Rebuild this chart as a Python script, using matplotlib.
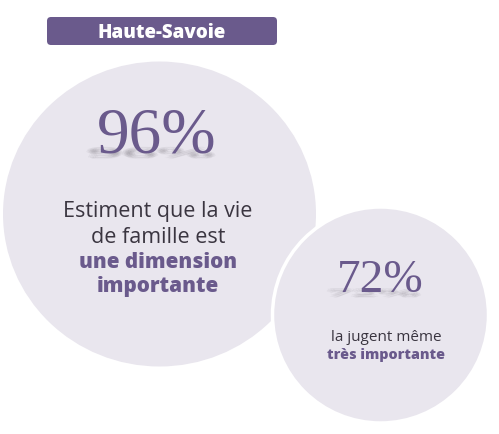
import matplotlib
matplotlib.use('Agg')
import matplotlib.pyplot as plt
from matplotlib.patches import Ellipse, Circle, FancyBboxPatch, PathPatch
from matplotlib.textpath import TextPath
from matplotlib.font_manager import FontProperties
from matplotlib.transforms import Affine2D

# data
title = "Haute-Savoie"
percents = [96, 72]
lines_regular = [["Estiment que la vie", "de famille est"], ["la jugent même"]]
lines_bold = [["une dimension", "importante"], ["très importante"]]

purple = '#6a5a8c'
dark = '#3a3540'
bubble = '#e9e6ee'

fig = plt.figure(figsize=(4.99, 4.35), dpi=100)
ax = fig.add_axes([0, 0, 1, 1])
ax.set_xlim(0, 499)
ax.set_ylim(435, 0)
ax.axis('off')

# bubbles
ax.add_patch(Ellipse((159.5, 215), 313, 305, fc=bubble, ec='none', zorder=1))
ax.add_patch(Circle((380.5, 316), 108, fc=bubble, ec='white', lw=2.5, zorder=2))

# title box
ax.add_patch(FancyBboxPatch((47, 18), 230, 28, boxstyle='round,pad=0,rounding_size=4',
                            fc=purple, ec='none', zorder=3))
ax.text(162, 32.5, title, color='white', fontsize=13.5, fontweight='heavy',
        family='Open Sans', ha='center', va='center', zorder=4)

serif = FontProperties(family='Liberation Serif')


def shadow(txt, cx, base, size):
    tp = TextPath((0, 0), txt, size=size, prop=serif)
    bb = tp.get_extents()
    offs = [(0, 0), (1.5, 1), (-1.5, 1), (0, 2), (2.5, -1), (-2.5, -1),
            (3.5, 0.5), (-3.5, 0.5), (0, -1.5)]
    for dx, dy in offs:
        tr = (Affine2D().translate(-(bb.x0 + bb.x1) / 2, 0).scale(1.05, -0.2)
              .translate(cx - 6 + dx, base + 5 + dy))
        ax.add_patch(PathPatch(tr.transform_path(tp), fc='#6d6870', ec='none',
                               alpha=0.065, zorder=4))


# big bubble
shadow(f"{percents[0]}%", 157, 153, 66)
ax.text(157, 153, f"{percents[0]}%", color=purple, fontsize=47, family='Liberation Serif',
        ha='center', va='baseline', zorder=5)
ys = [212, 238]
for s, y in zip(lines_regular[0], ys):
    ax.text(158, y, s, color=dark, fontsize=15.5, family='Open Sans', ha='center',
            va='center', zorder=5)
ys = [263, 287]
for s, y in zip(lines_bold[0], ys):
    ax.text(158, y, s, color=purple, fontsize=14.9, family='Open Sans', fontweight='heavy',
            ha='center', va='center', zorder=5)

# small bubble
shadow(f"{percents[1]}%", 380, 292, 48)
ax.text(380, 292, f"{percents[1]}%", color=purple, fontsize=34, family='Liberation Serif',
        ha='center', va='baseline', zorder=5)
ax.text(386, 338, lines_regular[1][0], color=dark, fontsize=11, family='Open Sans',
        ha='center', va='center', zorder=5)
ax.text(386, 355, lines_bold[1][0], color=purple, fontsize=10.3, family='Open Sans',
        fontweight='heavy', ha='center', va='center', zorder=5)

plt.savefig('out.png', dpi=100, facecolor='white')
